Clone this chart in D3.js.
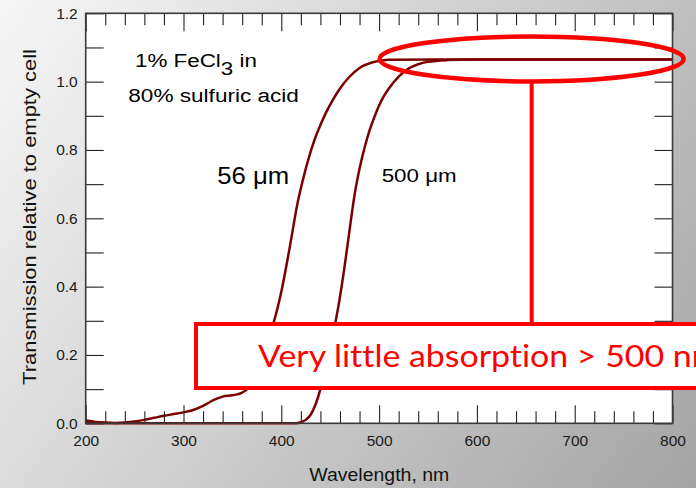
<!DOCTYPE html>
<html>
<head>
<meta charset="utf-8">
<script src="https://cdn.jsdelivr.net/npm/d3@7"></script>
<style>
  html, body { margin: 0; padding: 0; }
  svg { display: block; }
  text { font-family: "Liberation Sans", Arial, sans-serif; }
</style>
</head>
<body>
<svg id="chart" width="696" height="488"></svg>
<script>
// Transmission spectra of 1% FeCl3 in 80% sulfuric acid, two path lengths
const wl56 = [200, 210, 220, 230, 240, 250, 260, 270, 280, 290, 300, 310, 320, 330, 340, 350, 360, 365, 370, 375, 380, 385, 392, 400, 408, 417, 421, 430, 434, 440, 445, 453, 460, 470, 480, 494, 510, 560, 650, 800];
const t56  = [0.008, 0.004, 0.002, 0.001, 0.002, 0.005, 0.010, 0.016, 0.022, 0.027, 0.032, 0.039, 0.051, 0.067, 0.078, 0.082, 0.090, 0.100, 0.120, 0.150, 0.190, 0.235, 0.293, 0.385, 0.505, 0.650, 0.700, 0.795, 0.830, 0.873, 0.905, 0.948, 0.980, 1.015, 1.040, 1.057, 1.064, 1.065, 1.065, 1.065];

const wl500 = [200, 300, 400, 415, 420, 425, 430, 435, 440, 445, 450, 455, 460, 465, 470, 475, 480, 485, 490, 495, 500, 505, 510, 520, 530, 540, 550, 570, 600, 700, 800];
const t500  = [0.000, 0.000, 0.000, 0.000, 0.003, 0.010, 0.025, 0.055, 0.100, 0.160, 0.225, 0.290, 0.370, 0.465, 0.570, 0.670, 0.745, 0.805, 0.855, 0.895, 0.930, 0.958, 0.980, 1.015, 1.038, 1.051, 1.058, 1.063, 1.065, 1.065, 1.065];

const xMajor = [200, 300, 400, 500, 600, 700, 800];
const xMinor = d3.range(220, 800, 20).filter(v => v % 100 !== 0);
const yTicks = [0, 0.1, 0.2, 0.3, 0.4, 0.5, 0.6, 0.7, 0.8, 0.9, 1.0, 1.1, 1.2];
const yLabelled = [0, 0.2, 0.4, 0.6, 0.8, 1.0, 1.2];

const W = 696, H = 488;
const plot = { left: 85.7, right: 672.5, top: 13.3, bottom: 423.3 };

const svg = d3.select("#chart");

// slide background
const defs = svg.append("defs");
const grad = defs.append("linearGradient")
  .attr("id", "bg").attr("gradientUnits", "userSpaceOnUse")
  .attr("x1", 0).attr("y1", 0).attr("x2", W).attr("y2", H);
grad.append("stop").attr("offset", 0).attr("stop-color", "#f7f7f7");
grad.append("stop").attr("offset", 1).attr("stop-color", "#a4a4a4");
svg.append("rect").attr("width", W).attr("height", H).attr("fill", "url(#bg)");

const x = d3.scaleLinear().domain([200, 800]).range([plot.left, plot.right]);
const y = d3.scaleLinear().domain([0, 1.2]).range([plot.bottom, plot.top]);

svg.append("rect")
  .attr("x", plot.left).attr("y", plot.top)
  .attr("width", plot.right - plot.left).attr("height", plot.bottom - plot.top)
  .attr("fill", "#fff");

// spectra
const line = d3.line().x(d => x(d[0])).y(d => y(d[1])).curve(d3.curveMonotoneX);
const curves = [d3.zip(wl56, t56), d3.zip(wl500, t500)];
svg.append("g").selectAll("path").data(curves).join("path")
  .attr("d", line)
  .attr("fill", "none")
  .attr("stroke", "#7d0000")
  .attr("stroke-width", 2.5)
  .attr("stroke-linejoin", "round");

// axes with inward ticks
function styleAxis(g) {
  g.select(".domain").remove();
  g.selectAll(".tick line").attr("stroke", "#222").attr("stroke-width", 1.1);
  g.selectAll(".tick text").attr("fill", "#1a1a1a")
    .style("font-family", '"Liberation Sans", Arial, sans-serif').style("font-size", "15.5px");
}

svg.append("g").attr("transform", `translate(0,${plot.bottom})`)
  .call(d3.axisBottom(x).tickValues(xMajor).tickSize(-18).tickPadding(12).tickFormat(d3.format("d")))
  .call(styleAxis);
svg.append("g").attr("transform", `translate(0,${plot.bottom})`)
  .call(d3.axisBottom(x).tickValues(xMinor).tickSize(-12).tickFormat(""))
  .call(styleAxis);
svg.append("g").attr("transform", `translate(0,${plot.top})`)
  .call(d3.axisTop(x).tickValues(xMajor).tickSize(-18).tickFormat(""))
  .call(styleAxis);
svg.append("g").attr("transform", `translate(0,${plot.top})`)
  .call(d3.axisTop(x).tickValues(xMinor).tickSize(-12).tickFormat(""))
  .call(styleAxis);

svg.append("g").attr("transform", `translate(${plot.left},0)`)
  .call(d3.axisLeft(y).tickValues(yTicks).tickSize(-18).tickPadding(8)
    .tickFormat(d => yLabelled.some(v => Math.abs(v - d) < 1e-9) ? d3.format(".1f")(d) : ""))
  .call(styleAxis);
svg.append("g").attr("transform", `translate(${plot.right},0)`)
  .call(d3.axisRight(y).tickValues(yTicks).tickSize(-18).tickFormat(""))
  .call(styleAxis);

// plot frame
svg.append("rect")
  .attr("x", plot.left).attr("y", plot.top)
  .attr("width", plot.right - plot.left).attr("height", plot.bottom - plot.top)
  .attr("fill", "none").attr("stroke", "#3a3a3a").attr("stroke-width", 1.6);

// text placed at (px,py), stretched horizontally to a given width
function stretchedText(px, py, size, width, build, opts = {}) {
  const g = svg.append("g");
  const t = g.append("text")
    .attr("font-size", size)
    .attr("fill", opts.fill || "#000")
    .attr("text-anchor", opts.anchor || "start");
  if (opts.family) t.style("font-family", opts.family).style("font-variant-ligatures", "none");
  build(t);
  const measured = opts.prefix != null
    ? t.node().getSubStringLength(0, opts.prefix)
    : t.node().getBBox().width;
  const s = width / measured;
  g.attr("transform", `translate(${px},${py}) ${opts.rotate ? "rotate(" + opts.rotate + ")" : ""} scale(${s},1)`);
  return g;
}

stretchedText(135, 67, 19, 122, t => {
  t.append("tspan").text("1% FeCl");
  t.append("tspan").attr("dy", 8).text("3");
  t.append("tspan").attr("dy", -8).text(" in");
});
stretchedText(128.3, 101.7, 19, 170.7, t => t.text("80% sulfuric acid"));
stretchedText(217.3, 184, 24, 72, t => t.text("56 μm"));
stretchedText(381.7, 181.7, 19, 75, t => t.text("500 μm"));

// axis titles
stretchedText(379.3, 480.7, 18.5, 140, t => t.text("Wavelength, nm"), { anchor: "middle", fill: "#111" });
stretchedText(36, 217, 18.5, 336, t => t.text("Transmission relative to empty cell"),
  { anchor: "middle", rotate: -90, fill: "#111" });

// annotation: plateau highlight, connector and callout box
const red = "#ff0000";
const plateau = 1.065;
svg.append("ellipse")
  .attr("cx", x(656)).attr("cy", y(plateau) - 0.5)
  .attr("rx", 152).attr("ry", 22.5)
  .attr("fill", "none").attr("stroke", red).attr("stroke-width", 4.5);
svg.append("line")
  .attr("x1", x(656)).attr("x2", x(656))
  .attr("y1", y(plateau) + 22).attr("y2", 324)
  .attr("stroke", red).attr("stroke-width", 4);
svg.append("rect")
  .attr("x", 196).attr("y", 324).attr("width", 540).attr("height", 64)
  .attr("fill", "#fff").attr("stroke", red).attr("stroke-width", 4);
stretchedText(258, 367, 30, 415, t => t.text("Very little absorption > 500 nm"),
  { fill: red, family: "Lato, 'Open Sans', sans-serif", prefix: 29 });
</script>
</body>
</html>
